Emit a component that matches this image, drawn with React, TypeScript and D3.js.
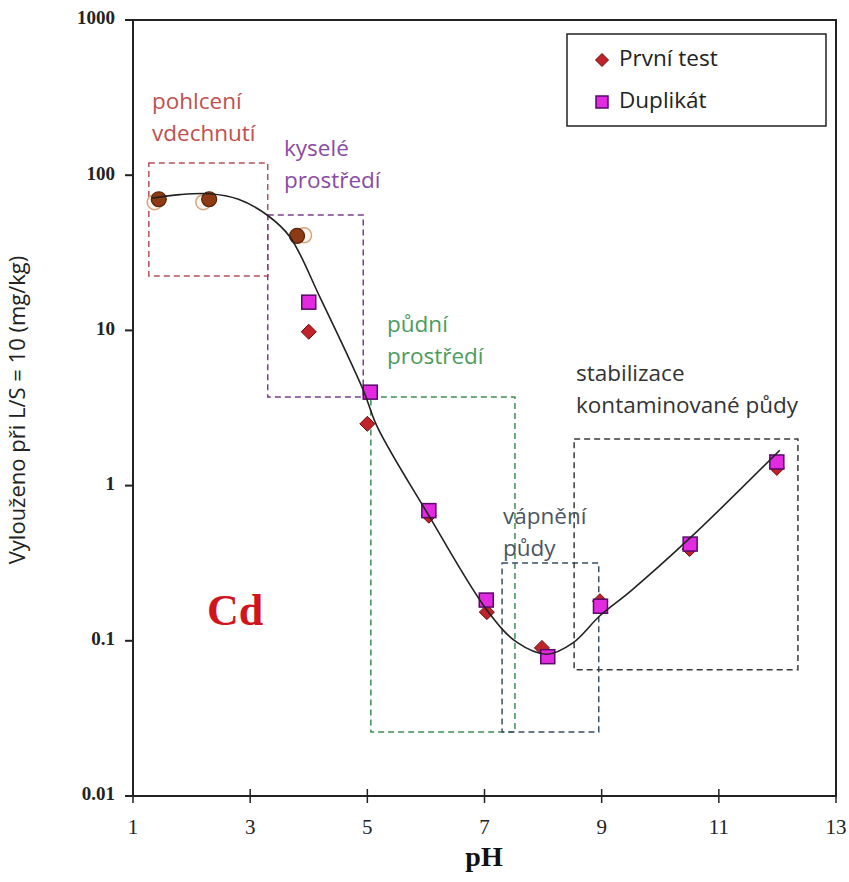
import React from "react";
import * as d3 from "d3";

const yTicks = [0.01, 0.1, 1, 10, 100, 1000];
const yTickLabels = ["0.01", "0.1", "1", "10", "100", "1000"];
const xTicks = [1, 3, 5, 7, 9, 11, 13];

// První test (diamonds)
const firstPH = [4.0, 5.0, 6.05, 7.04, 7.98, 8.97, 10.5, 11.99];
const firstVal = [9.8, 2.5, 0.64, 0.153, 0.09, 0.18, 0.39, 1.3];
// Duplikát (squares)
const dupPH = [4.0, 5.05, 6.05, 7.03, 8.08, 8.98, 10.51, 11.99];
const dupVal = [15.2, 4.0, 0.69, 0.183, 0.079, 0.167, 0.42, 1.42];
// filled circles (first) and hollow circles (duplicate) at low pH
const circPH = [1.44, 2.3, 3.8];
const circVal = [70, 70, 40.6];
const hollowPH = [1.37, 2.2, 3.92];
const hollowVal = [67, 67, 41];
// fitted curve
const curvePH = [1.32, 1.8, 2.3, 2.8, 3.3, 3.68, 4.19, 4.93, 5.17, 6.04, 7.04, 7.55, 8.07, 8.51, 8.97, 9.5, 10.51, 12.04];
const curveVal = [71, 75, 76, 70, 55, 40, 16.4, 4.13, 2.39, 0.65, 0.158, 0.098, 0.082, 0.097, 0.145, 0.21, 0.46, 1.69];

// zones [pH0, pH1, vTop, vBottom]
const zoneBounds = [
  [1.27, 3.3, 120, 22.4],
  [3.3, 4.93, 55.5, 3.72],
  [5.06, 7.52, 3.72, 0.0258],
  [7.3, 8.95, 0.317, 0.0258],
  [8.53, 12.35, 2.0, 0.065],
];
const zoneColors = ["#b5525a", "#7a3f8f", "#3f8f52", "#3a4f68", "#3a3a3a"];
const zoneTextColors = ["#c0504d", "#8a4aa6", "#4a9c5c", "#4a5566", "#333333"];
const zoneLines = [["pohlcení", "vdechnutí"], ["kyselé", "prostředí"], ["půdní", "prostředí"], ["vápnění", "půdy"], ["stabilizace", "kontaminované půdy"]];
const zoneTextPos = [[152, 103], [284, 150], [387, 326], [503, 518], [576, 375]];

export default function App() {
  const W = 849, H = 882;
  const x = d3.scaleLinear().domain([1, 13]).range([133, 836]);
  const y = d3.scaleLog().domain([0.01, 1000]).range([796, 20]);
  const line = d3.line<[number, number]>().x(d => x(d[0])).y(d => y(d[1])).curve(d3.curveCatmullRom.alpha(0.5));
  const curveData: [number, number][] = curvePH.map((p, i) => [p, curveVal[i]]);
  const sans = "'Open Sans', sans-serif";
  const serif = "'Liberation Serif', 'Times New Roman', serif";
  const diamond = (cx: number, cy: number, r: number) => `M${cx},${cy - r}L${cx + r},${cy}L${cx},${cy + r}L${cx - r},${cy}Z`;

  return (
    <svg width={W} height={H} style={{ position: "absolute", left: 0, top: 0, background: "#fff" }}>
      {/* zones */}
      {zoneBounds.map((b, i) => (
        <rect key={"z" + i} x={x(b[0])} y={y(b[2])} width={x(b[1]) - x(b[0])} height={y(b[3]) - y(b[2])}
          fill="none" stroke={zoneColors[i]} strokeWidth={1.5} strokeDasharray="6,4" />
      ))}
      {zoneLines.map((ls, i) => (
        <text key={"t" + i} x={zoneTextPos[i][0]} y={zoneTextPos[i][1]} fill={zoneTextColors[i]} fontFamily={sans} fontSize={22.5} dominantBaseline="middle">
          {ls.map((l, j) => (
            <tspan key={j} x={zoneTextPos[i][0]} dy={j === 0 ? 0 : 32}>{l}</tspan>
          ))}
        </text>
      ))}
      {/* frame */}
      <rect x={133} y={20} width={836 - 133} height={796 - 20} fill="none" stroke="#222" strokeWidth={2} />
      {/* y ticks */}
      {yTicks.map((t, i) => (
        <g key={"y" + i}>
          <line x1={125} x2={133} y1={y(t)} y2={y(t)} stroke="#222" strokeWidth={2} />
          <text x={115} y={y(t)} textAnchor="end" dominantBaseline="middle" fontFamily={serif} fontSize={19} fontWeight="bold" fill="#222">{yTickLabels[i]}</text>
        </g>
      ))}
      {/* x ticks */}
      {xTicks.map((t, i) => (
        <g key={"x" + i}>
          <line x1={x(t)} x2={x(t)} y1={789} y2={803} stroke="#222" strokeWidth={1.5} />
          <text x={x(t)} y={829} textAnchor="middle" dominantBaseline="middle" fontFamily={serif} fontSize={21} fill="#222">{t}</text>
        </g>
      ))}
      <text x={484} y={860} textAnchor="middle" dominantBaseline="middle" fontFamily={serif} fontSize={28} fontWeight="bold" fill="#111">pH</text>
      <text transform={`translate(19,410) rotate(-90)`} textAnchor="middle" dominantBaseline="middle" fontFamily={sans} fontSize={22} fill="#222">Vylouženo při L/S = 10 (mg/kg)</text>
      <text x={207} y={625} fontFamily={serif} fontSize={44} fontWeight="bold" fill="#d0161c">Cd</text>

      {/* hollow circles */}
      {hollowPH.map((p, i) => (
        <circle key={"h" + i} cx={x(p)} cy={y(hollowVal[i])} r={7.5} fill="#fdf6f0" stroke="#d9a57a" strokeWidth={1.5} />
      ))}
      {circPH.map((p, i) => (
        <circle key={"c" + i} cx={x(p)} cy={y(circVal[i])} r={7.5} fill="#8e3a14" stroke="#5a2208" strokeWidth={1.2} />
      ))}
      {firstPH.map((p, i) => (
        <path key={"d" + i} d={diamond(x(p), y(firstVal[i]), 7.5)} fill="#c0242a" stroke="#6a0c10" strokeWidth={1} />
      ))}
      {dupPH.map((p, i) => (
        <rect key={"s" + i} x={x(p) - 7} y={y(dupVal[i]) - 7} width={14} height={14} fill="#e22be0" stroke="#5a0a6a" strokeWidth={1.5} />
      ))}
      <path d={line(curveData) || ""} fill="none" stroke="#222" strokeWidth={1.6} />

      {/* legend */}
      <rect x={567} y={34} width={826 - 567} height={126 - 34} fill="#fff" stroke="#222" strokeWidth={1.5} />
      <path d={diamond(602, 60, 6.5)} fill="#c0242a" stroke="#6a0c10" strokeWidth={1} />
      <text x={619} y={60} dominantBaseline="middle" fontFamily={sans} fontSize={22.5} fill="#222">První test</text>
      <rect x={596} y={96} width={12} height={12} fill="#e22be0" stroke="#5a0a6a" strokeWidth={1.5} />
      <text x={619} y={102} dominantBaseline="middle" fontFamily={sans} fontSize={22.5} fill="#222">Duplikát</text>
    </svg>
  );
}
